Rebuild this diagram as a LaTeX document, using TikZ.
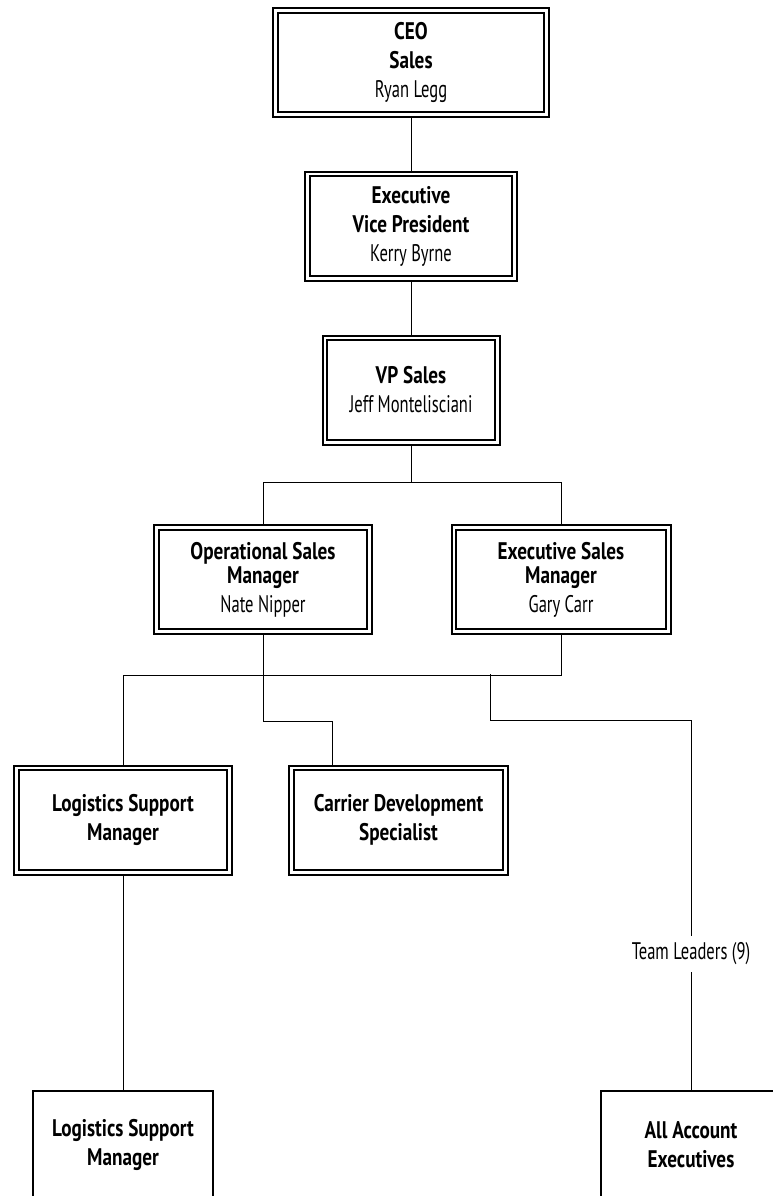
\documentclass[tikz,border=0pt]{standalone}
\usepackage{fontspec}
\setmainfont{PT Sans}[FakeStretch=0.69]
\newfontfamily\titlefont{PT Sans}[FakeStretch=0.8]
\usetikzlibrary{backgrounds}
\newcommand{\ttl}[1]{{\titlefont\bfseries #1}}

\begin{document}
\begin{tikzpicture}[x = 1pt, y = -1pt, line width = 1.8pt,
  font = \fontsize{24}{29}\selectfont,
  dbox/.style = {draw, double, line width = 2pt, double distance = 2.6pt, fill = white, align = center, inner sep = 0pt, minimum height = 104.4pt},
  sbox/.style = {draw, line width = 1.5pt, fill = white, align = center, inner sep = 0pt, minimum width = 180pt, minimum height = 108.5pt}]
\useasboundingbox (0,0) rectangle (773,1196);
\clip (0,0) rectangle (773,1196);
% top of the chart
\node[dbox, minimum width = 271.4pt] (ceo) at (411,62.5) {\ttl{CEO}\\\ttl{Sales}\\Ryan Legg};
\node[dbox, minimum width = 207.4pt] (evp) at (411,226) {\ttl{Executive}\\\ttl{Vice President}\\Kerry Byrne};
\node[dbox, minimum width = 172.4pt] (vp) at (411,390) {\ttl{VP Sales}\\Jeff Montelisciani};
% managers
\node[dbox, minimum width = 213.4pt] (ops) at (263,579.5) {\ttl{Operational Sales}\\[-5pt]\ttl{Manager}\\Nate Nipper};
\node[dbox, minimum width = 214.4pt] (exec) at (561,579.5) {\ttl{Executive Sales}\\[-5pt]\ttl{Manager}\\Gary Carr};
\node[dbox, minimum width = 213.4pt] (logi) at (123,820) {\ttl{Logistics Support}\\\ttl{Manager}};
\node[dbox, minimum width = 214.4pt] (carrier) at (398.5,820) {\ttl{Carrier Development}\\\ttl{Specialist}};
% bottom row
\node[sbox] (lsm) at (123,1145) {\ttl{Logistics Support}\\\ttl{Manager}};
\node[sbox] (aae) at (691,1145) {\ttl{All Account}\\\ttl{Executives}};
\node[fill = white, inner xsep = 2pt, inner ysep = 6pt] (lead) at (691,954) {Team Leaders (9)};
\begin{scope}[on background layer]
\draw (ceo) -- (evp);
\draw (evp) -- (vp);
\draw (vp.south) -- ++(0,39.3) -| (ops.north);
\draw (vp.south) -- ++(0,39.3) -| (exec.north);
\draw (ops.south) -- ++(0,88.3) -| ([xshift = 41.7pt]carrier.north west);
\draw (exec.south) -- ++(0,42.3) -| (logi.north);
\coordinate (split) at (490,674);
\draw (split) -- ++(0,46) -| (lead);
\draw (lead) -- (aae);
\draw (logi) -- (lsm);
\end{scope}
\end{tikzpicture}
\end{document}
